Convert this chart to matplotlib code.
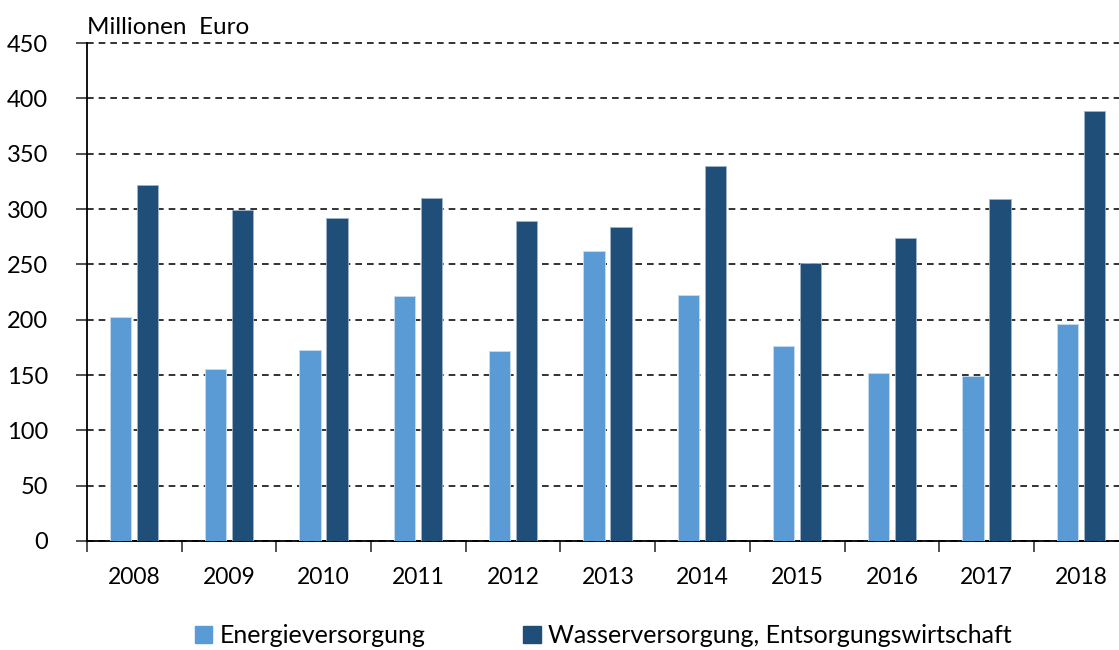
import numpy as np
import matplotlib.pyplot as plt
from matplotlib.patches import Patch

plt.rcParams["font.family"] = ["Lato", "DejaVu Sans"]

years = ["2008", "2009", "2010", "2011", "2012", "2013", "2014", "2015", "2016", "2017", "2018"]
energie = [202, 155, 173, 221, 172, 262, 222, 176, 152, 149, 196]
wasser = [322, 299, 292, 310, 289, 284, 339, 251, 274, 309, 389]

color_light = "#5B9BD5"
color_dark = "#1F4E79"

fig = plt.figure(figsize=(11.19, 6.5), dpi=100)
ax = fig.add_axes([0.0777, 0.1677, 0.931, 0.766])

x = np.arange(len(years))
ax.bar(x - 0.145, energie, width=0.225, color=color_light, edgecolor="#c8dcf0", linewidth=0.6, zorder=3)
ax.bar(x + 0.14, wasser, width=0.225, color=color_dark, edgecolor="#9fb4c8", linewidth=0.6, zorder=3)

ax.set_xlim(-0.5, len(years) - 0.5)
ax.set_ylim(0, 450)
ax.set_yticks(np.arange(0, 451, 50))
ax.yaxis.grid(True, linestyle=(0, (4, 3)), color="#111111", linewidth=1.2, zorder=0)
# keep the top gridline at full width instead of half-clipped
for line in ax.get_ygridlines():
    line.set_clip_on(False)

# category boundaries get the tick marks, labels sit at the centres
ax.set_xticks(np.arange(-0.5, len(years), 1.0))
ax.set_xticklabels([])
ax.set_xticks(x, minor=True)
ax.set_xticklabels(years, minor=True)
ax.tick_params(axis="x", which="major", direction="out", length=8, width=1.1, color="#222222")
ax.tick_params(axis="x", which="minor", length=0, pad=19, labelsize=16.5)
ax.tick_params(axis="y", direction="out", length=8, width=1.1, color="#222222", pad=20, labelsize=17)

for side in ["top", "right"]:
    ax.spines[side].set_visible(False)
ax.spines["left"].set_linewidth(1.3)
ax.spines["bottom"].set_linewidth(1.3)

fig.text(0.0777, 1 - 34 / 650, "Millionen  Euro", fontsize=17.5, va="baseline", ha="left")

handles = [Patch(color=color_light, label="Energieversorgung"),
           Patch(color=color_dark, label="Wasserversorgung, Entsorgungswirtschaft")]
fig.legend(handles=handles, loc="center", bbox_to_anchor=(0.539, 0.022), ncol=2, frameon=False,
           fontsize=18, handlelength=0.7, handleheight=0.7, handletextpad=0.3, columnspacing=3.9)

fig.savefig("out.png", dpi=100)
